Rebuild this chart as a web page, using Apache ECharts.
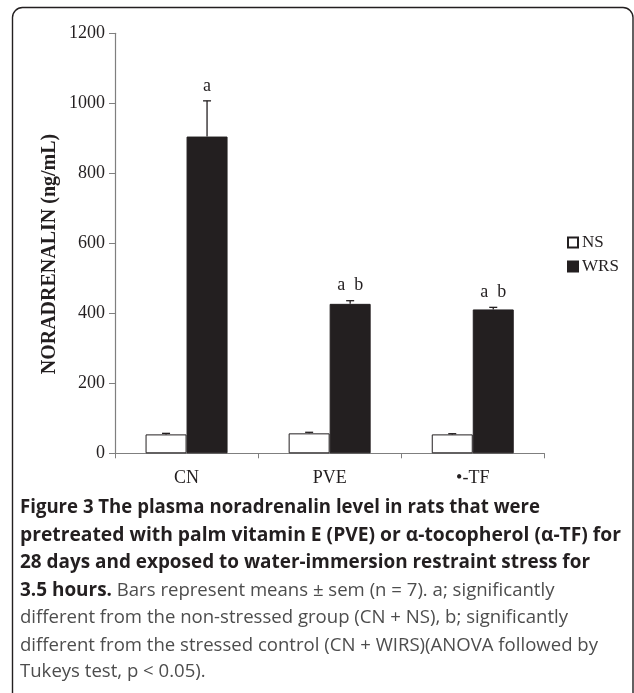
<!DOCTYPE html>
<html><head><meta charset="utf-8">
<script src="https://cdn.jsdelivr.net/npm/echarts@6/dist/echarts.min.js"></script>
<style>html,body{margin:0;padding:0;background:#fff}#c{width:634px;height:693px}</style>
</head><body><div id="c"></div>
<script>
// ---- data ----
const categories = ['CN', 'PVE', '\u2022-TF'];
const seriesNames = ['NS', 'WRS'];
const nsMean = [54, 57, 54];
const nsErr = [3, 3, 2];
const wrsMean = [905, 427, 411];
const wrsErr = [102, 9, 6];
const sigLabels = ['a', 'a  b', 'a  b'];
const yMin = 0, yMax = 1200, yInterval = 200;
const yTitle = 'NORADRENALIN (ng/mL)';
const captionLines = [
  [['Figure 3 The plasma noradrenalin level in rats that were', true]],
  [['pretreated with palm vitamin E (PVE) or \u03b1-tocopherol (\u03b1-TF) for', true]],
  [['28 days and exposed to water-immersion restraint stress for', true]],
  [['3.5 hours.', true], ['Bars represent means \u00b1 sem (n = 7). a; significantly', false]],
  [['different from the non-stressed group (CN + NS), b; significantly', false]],
  [['different from the stressed control (CN + WIRS)(ANOVA followed by', false]],
  [['Tukeys test, p < 0.05).', false]]
];

// ---- layout ----
const gapRatio = 0.427;
const serif = '"Liberation Serif", "Times New Roman", serif';
const sans = '"Open Sans", "Noto Sans", sans-serif';
const ink = '#231f20';
const axisGrey = '#7f7f7f';
const capLeft = 20;
const capY = [508, 536, 563, 590.5, 618, 646, 672];
const capRight = [540, 621, 590, null, 568, 598, null]; // fitted line ends (null = natural width)
const capSize = 19;

const mctx = document.createElement('canvas').getContext('2d');
function fontOf(bold) { return (bold ? 'bold ' : '') + capSize + 'px ' + sans; }
function measure(text, bold) { mctx.font = fontOf(bold); return mctx.measureText(text).width; }
function fitScale(li) { return (capRight[li] - capLeft) / measure(captionLines[li][0][0], captionLines[li][0][1]); }
const boldScale = (fitScale(0) + fitScale(1) + fitScale(2)) / 3;
const regScale = (fitScale(4) + fitScale(5)) / 2;

const graphics = [{
  type: 'rect', silent: true,
  shape: {x: 12.5, y: 7.5, width: 620.5, height: 720, r: 10},
  style: {fill: null, stroke: ink, lineWidth: 1.4}
}, {
  type: 'text', x: 50, y: 254, rotation: Math.PI / 2,
  style: {text: yTitle, font: 'bold 20px ' + serif, fill: ink, align: 'center', verticalAlign: 'middle'}
}];
captionLines.forEach((segs, li) => {
  let x = capLeft;
  segs.forEach((seg) => {
    const [t, bold] = seg;
    const sc = (segs.length === 1 && capRight[li] !== null) ? fitScale(li) : (bold ? boldScale : regScale);
    graphics.push({
      type: 'text', x: x, y: capY[li], scaleX: sc,
      style: {text: t, font: fontOf(bold), fill: bold ? ink : '#4d4d4d', align: 'left', verticalAlign: 'middle'}
    });
    x += measure(t, bold) * sc + measure(' ', false) * regScale;
  });
});

function errRender(side, withLabel) {
  return function (params, api) {
    const i = api.value(0), mean = api.value(1), err = api.value(2);
    const band = api.size([1, 0])[0];
    const bw = band * (1 - gapRatio) / 2;
    const p0 = api.coord([i, mean]);
    const p1 = api.coord([i, mean + err]);
    const x = p0[0] + side * bw / 2;
    const st = {stroke: ink, lineWidth: 1.3};
    const children = [
      {type: 'line', shape: {x1: x, y1: p0[1], x2: x, y2: p1[1]}, style: st},
      {type: 'line', shape: {x1: x - 4, y1: p1[1], x2: x + 4, y2: p1[1]}, style: st}
    ];
    if (withLabel) {
      children.push({type: 'text', x: x, y: p1[1] - 6,
        style: {text: sigLabels[params.dataIndex], font: '18px ' + serif, fill: ink,
          align: 'center', verticalAlign: 'bottom'}});
    }
    return {type: 'group', children: children};
  };
}

const chart = echarts.init(document.getElementById('c'), null, {renderer: 'canvas'});
chart.setOption({
  animation: false,
  backgroundColor: '#fff',
  grid: {left: 115, right: 89.7, top: 33.3, bottom: 239.7, containLabel: false},
  legend: {
    orient: 'vertical', left: 562, top: 229, itemWidth: 10, itemHeight: 10, itemGap: 7,
    icon: 'rect', data: seriesNames,
    textStyle: {fontFamily: serif, fontSize: 17, color: ink, padding: [0, 0, 0, -1]}
  },
  xAxis: {
    type: 'category', data: categories,
    axisLine: {lineStyle: {color: axisGrey, width: 1.2}},
    axisTick: {show: true, length: 5, alignWithLabel: false, lineStyle: {color: axisGrey}},
    axisLabel: {fontFamily: serif, fontSize: 18, color: ink, margin: 16}
  },
  yAxis: {
    type: 'value', min: yMin, max: yMax, interval: yInterval,
    splitLine: {show: false},
    axisLine: {show: true, lineStyle: {color: axisGrey, width: 1.2}},
    axisTick: {show: true, length: 6, lineStyle: {color: axisGrey}},
    axisLabel: {fontFamily: serif, fontSize: 18, color: ink, margin: 10, formatter: v => String(v)}
  },
  graphic: graphics,
  series: [{
    name: seriesNames[0], type: 'bar', data: nsMean,
    barGap: '0%', barCategoryGap: (gapRatio * 100) + '%',
    itemStyle: {color: '#ffffff', borderColor: ink, borderWidth: 1}
  }, {
    name: seriesNames[1], type: 'bar', data: wrsMean,
    barGap: '0%', barCategoryGap: (gapRatio * 100) + '%',
    itemStyle: {color: ink, borderColor: ink, borderWidth: 1}
  }, {
    type: 'custom', z: 5, renderItem: errRender(-1, false),
    data: nsMean.map((m, i) => [i, m, nsErr[i]]), encode: {x: 0, y: 1}
  }, {
    type: 'custom', z: 5, renderItem: errRender(1, true),
    data: wrsMean.map((m, i) => [i, m, wrsErr[i]]), encode: {x: 0, y: 1}
  }]
});
</script></body></html>
